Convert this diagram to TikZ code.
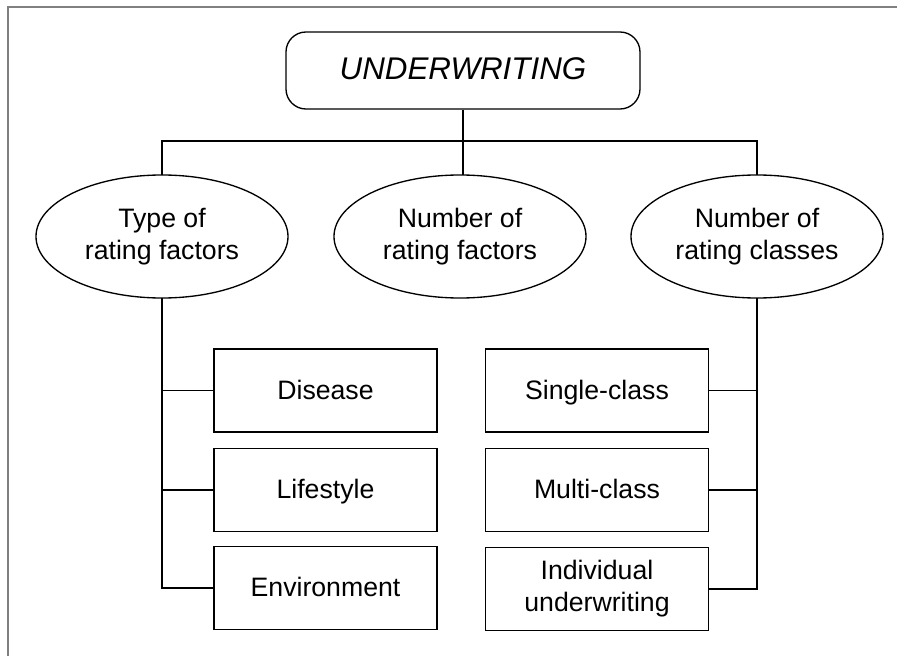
\documentclass[tikz,border=0pt]{standalone}
\usepackage{fontspec}
\setmainfont{Liberation Sans}
\usetikzlibrary{shapes.geometric}

\tikzset{
  rootbox/.style={draw, rounded corners=15pt, line width=1pt, inner sep=0pt,
    minimum width=265.5pt, minimum height=57.75pt,
    text height=16.8pt, text depth=3.5pt,
    font=\fontsize{23.5}{28}\selectfont\itshape},
  kindnode/.style={draw, ellipse, line width=1pt, inner sep=0pt, outer sep=0pt,
    minimum width=189pt, minimum height=92.25pt, align=center,
    font=\fontsize{20}{24}\selectfont},
  itembox/.style={draw, rectangle, line width=1pt, inner sep=0pt,
    minimum width=167.25pt, minimum height=62.25pt, align=center,
    font=\fontsize{20}{24}\selectfont},
  oneline/.style={text height=14.4pt, text depth=1.5pt},
  link/.style={line width=1pt}
}

\begin{document}
\begin{tikzpicture}[x=0.75pt,y=0.75pt,yscale=-1,xscale=1]
\useasboundingbox (0,0) rectangle (897,656);

%Frame
\draw [color=gray, line width=0.8pt] (8,656) -- (8,7) -- (897,7) ;

% Root
\node [rootbox] (root) at (463,70.5) {UNDERWRITING};

% Ellipses
\node [kindnode] (type) at (162,236.5) {Type of\\rating factors};
\node [kindnode] (number) at (460,236.5) {Number of\\rating factors};
\node [kindnode] (classes) at (757,236.5) {Number of\\rating classes};

% Left boxes
\node [itembox, oneline] (disease) at (325.5,390.5) {Disease};
\node [itembox, oneline] (lifestyle) at (325.5,490) {Lifestyle};
\node [itembox, oneline] (environment) at (325.5,588) {Environment};

% Right boxes
\node [itembox, oneline] (single) at (597,390.5) {Single-class};
\node [itembox, oneline] (multi) at (597,490) {Multi-class};
\node [itembox] (individual) at (597,589) {Individual\\underwriting};

% Top connectors
\draw [link] (root.south) -- (root.south |- number.north) ;
\draw [link] (type.north) -- ++(0,-34) -| (classes.north) ;

% Left trunk
\draw [link] (type.south) |- (environment.west) ;
\draw [link] (type.south |- disease.west) -- (disease.west) ;
\draw [link] (type.south |- lifestyle.west) -- (lifestyle.west) ;

% Right trunk
\draw [link] (classes.south) |- (individual.east) ;
\draw [link] (classes.south |- single.east) -- (single.east) ;
\draw [link] (classes.south |- multi.east) -- (multi.east) ;

\end{tikzpicture}
\end{document}
